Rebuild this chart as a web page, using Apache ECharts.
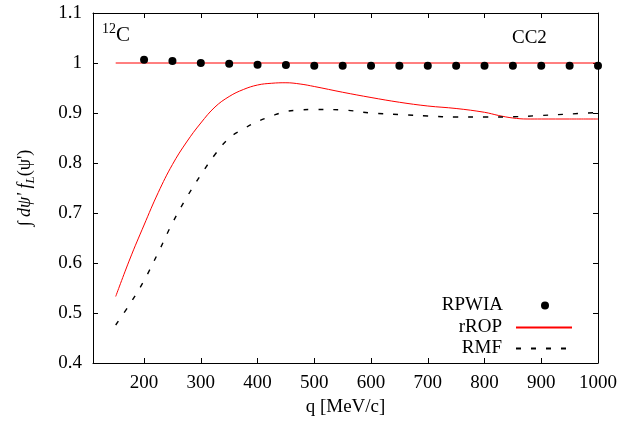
<!DOCTYPE html>
<html>
<head>
<meta charset="utf-8">
<script src="https://cdn.jsdelivr.net/npm/echarts@6/dist/echarts.min.js"></script>
<style>
  html, body { margin: 0; padding: 0; background: #fff; }
  #chart { width: 643px; height: 431px; }
</style>
</head>
<body>
<div id="chart"></div>
<script>
// Momentum transfer ticks (MeV/c)
const xTicks = [200, 300, 400, 500, 600, 700, 800, 900, 1000];

// RPWIA points
const rpwiaQ = [200, 250, 300, 350, 400, 450, 500, 550, 600, 650, 700, 750, 800, 850, 900, 950, 1000];
const rpwiaY = [1.0067, 1.004, 1.000, 0.9987, 0.9967, 0.996, 0.9947, 0.9947, 0.9947, 0.9947, 0.9947, 0.9947, 0.9947, 0.9947, 0.9947, 0.9947, 0.9947];

// rROP: flat reference line
const rropFlatQ = [150, 1000];
const rropFlatY = [1.0, 1.0];

// rROP curve
const rropQ = [150, 175, 200, 225, 250, 275, 300, 325, 350, 375, 400, 425, 450, 475, 500, 550, 600, 650, 700, 750, 800, 825, 850, 875, 900, 950, 1000];
const rropY = [0.533, 0.608, 0.676, 0.741, 0.797, 0.842, 0.880, 0.912, 0.933, 0.947, 0.956, 0.9595, 0.9605, 0.958, 0.953, 0.9415, 0.931, 0.9215, 0.914, 0.909, 0.9014, 0.895, 0.890, 0.888, 0.888, 0.888, 0.888];

// RMF curve
const rmfQ = [150, 175, 200, 225, 250, 275, 300, 325, 350, 375, 400, 425, 450, 475, 500, 550, 600, 650, 700, 750, 800, 850, 900, 950, 1000];
const rmfY = [0.476, 0.518, 0.565, 0.621, 0.680, 0.731, 0.776, 0.817, 0.850, 0.868, 0.883, 0.894, 0.903, 0.906, 0.907, 0.906, 0.900, 0.897, 0.894, 0.892, 0.892, 0.8925, 0.895, 0.898, 0.901];

const zip = (a, b) => a.map((v, i) => [v, b[i]]);

const FONT = 'Liberation Serif';
const chart = echarts.init(document.getElementById('chart'), null, { renderer: 'canvas' });

const frameLine = { show: true, lineStyle: { color: '#000', width: 1 } };
const inTick = { show: true, inside: true, length: 5, lineStyle: { color: '#000', width: 1 } };

const legendCommon = {
  orient: 'horizontal',
  align: 'right',
  padding: 0,
  itemWidth: 56,
  itemHeight: 14,
  right: 70,
  itemStyle: { opacity: 0 },
  textStyle: { fontFamily: FONT, fontSize: 19, color: '#000', padding: [0, 9, 0, 0] },
  selectedMode: false
};

chart.setOption({
  animation: false,
  backgroundColor: '#fff',
  grid: { left: 93, right: 45, top: 13, bottom: 68 },
  xAxis: [
    {
      type: 'value', min: 110, max: 1000, position: 'bottom',
      axisLine: frameLine,
      axisTick: Object.assign({ customValues: xTicks }, inTick),
      axisLabel: {
        customValues: xTicks, formatter: v => String(v),
        fontFamily: FONT, fontSize: 19, color: '#000', margin: 11
      },
      splitLine: { show: false },
      name: 'q [MeV/c]', nameLocation: 'middle', nameGap: 35,
      nameTextStyle: { fontFamily: FONT, fontSize: 19, color: '#000' }
    },
    {
      type: 'value', min: 110, max: 1000, position: 'top',
      axisLine: frameLine,
      axisTick: Object.assign({ customValues: xTicks }, inTick),
      axisLabel: { show: false },
      splitLine: { show: false }
    }
  ],
  yAxis: [
    {
      type: 'value', min: 0.4, max: 1.1, interval: 0.1, position: 'left',
      axisLine: frameLine, axisTick: inTick,
      axisLabel: { fontFamily: FONT, fontSize: 19, color: '#000', margin: 11 },
      splitLine: { show: false },
      name: '{n|∫ }{i|dψ\'}{n| }{i|f}{s|L}{n|(ψ\')}',
      nameLocation: 'middle', nameRotate: 90, nameGap: 56,
      nameTextStyle: {
        fontFamily: FONT, fontSize: 18, color: '#000',
        rich: {
          n: { fontFamily: FONT, fontSize: 18, color: '#000', lineHeight: 24, verticalAlign: 'middle' },
          i: { fontFamily: FONT, fontSize: 18, fontStyle: 'italic', color: '#000', lineHeight: 24, verticalAlign: 'middle' },
          s: { fontFamily: FONT, fontSize: 13, fontStyle: 'italic', color: '#000', lineHeight: 13, verticalAlign: 'bottom' }
        }
      }
    },
    {
      type: 'value', min: 0.4, max: 1.1, interval: 0.1, position: 'right',
      axisLine: frameLine, axisTick: inTick,
      axisLabel: { show: false },
      splitLine: { show: false }
    }
  ],
  legend: [
    Object.assign({}, legendCommon, {
      top: 296, right: 94, itemWidth: 8, itemHeight: 8,
      itemStyle: { opacity: 1 },
      data: [{ name: 'RPWIA', icon: 'circle' }],
      textStyle: { fontFamily: FONT, fontSize: 19, color: '#000', padding: [0, 33, 0, 0] }
    }),
    Object.assign({}, legendCommon, { top: 318, data: ['rROP'] }),
    Object.assign({}, legendCommon, { top: 339, data: ['RMF'] })
  ],
  graphic: [
    {
      type: 'text', left: 102, top: 22,
      style: {
        text: '{sup|12}{c|C}',
        rich: {
          sup: { fontFamily: FONT, fontSize: 14, fill: '#000', lineHeight: 24, verticalAlign: 'top' },
          c: { fontFamily: FONT, fontSize: 21, fill: '#000', lineHeight: 24, verticalAlign: 'bottom' }
        }
      }
    },
    {
      type: 'text', left: 512, top: 29,
      style: { text: 'CC2', fontFamily: FONT, fontSize: 19, fill: '#000' }
    }
  ],
  series: [
    {
      name: 'RPWIA', type: 'scatter', data: zip(rpwiaQ, rpwiaY),
      symbol: 'circle', symbolSize: 8, itemStyle: { color: '#000', opacity: 1 }, z: 5
    },
    {
      name: 'rROP', type: 'line', data: zip(rropFlatQ, rropFlatY),
      symbol: 'none', lineStyle: { color: '#ff0000', width: 1 }, itemStyle: { color: '#ff0000' }
    },
    {
      name: 'rROP', type: 'line', data: zip(rropQ, rropY),
      symbol: 'none', smooth: 0.4,
      lineStyle: { color: '#ff0000', width: 1 }, itemStyle: { color: '#ff0000' }
    },
    {
      name: 'RMF', type: 'line', data: zip(rmfQ, rmfY),
      symbol: 'none', smooth: 0.4,
      lineStyle: { color: '#000', width: 1.4, type: [5, 10] }, itemStyle: { color: '#000' }
    }
  ]
});
</script>
</body>
</html>
